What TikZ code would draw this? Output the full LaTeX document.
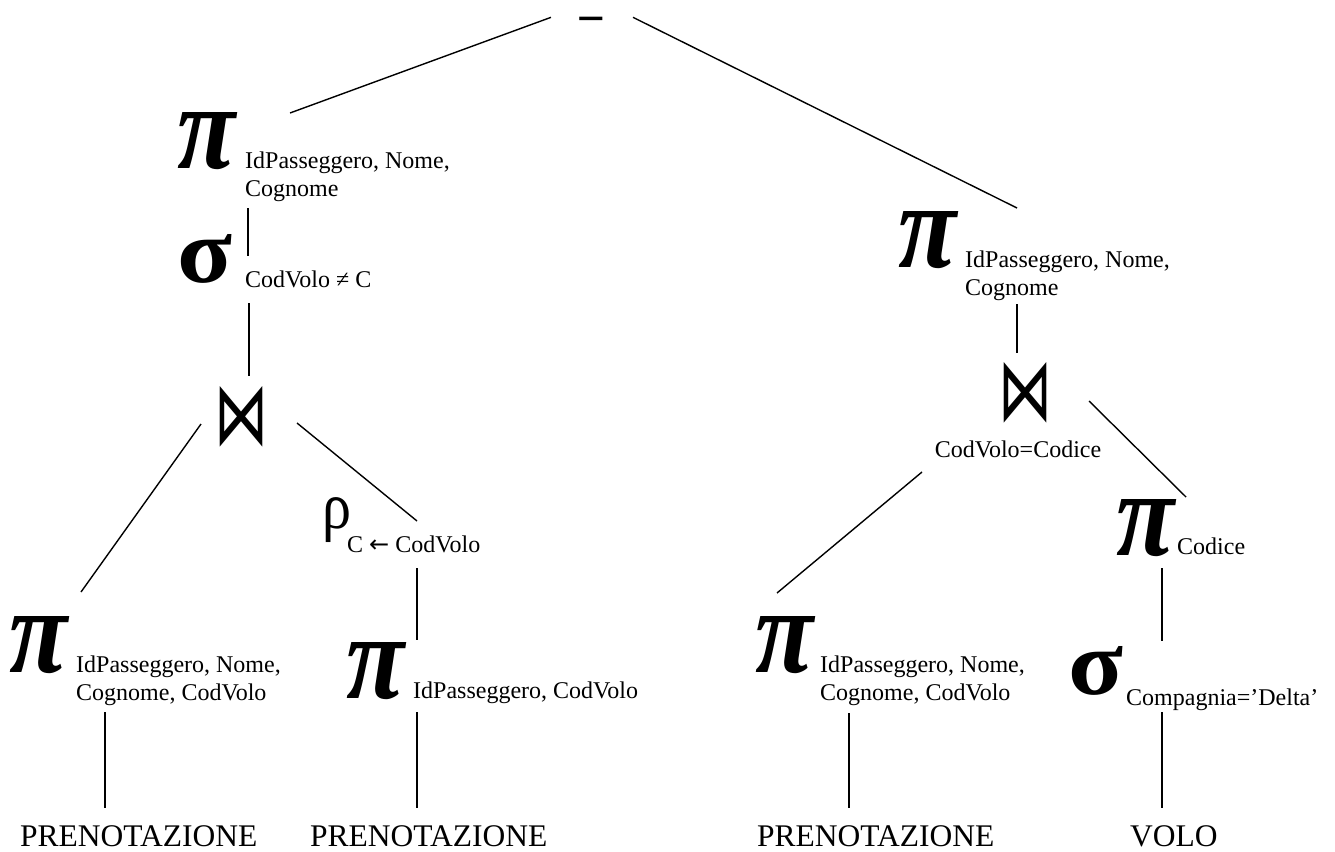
\documentclass[tikz,border=0pt]{standalone}
\usepackage{fontspec}
\setmainfont{Liberation Serif}
\newfontfamily\symfont{DejaVu Sans}
\usetikzlibrary{positioning}

\tikzset{
  edge/.style={line width=1.4pt},
  op/.style={inner sep=0pt, outer sep=0pt},
  sub/.style={inner sep=0pt, anchor=base west, align=left, font=\fontsize{24}{28}\selectfont},
  rel/.style={inner sep=0pt, anchor=base west, font=\fontsize{31.5}{36}\selectfont}
}
\newcommand{\opPi}{\resizebox{58pt}{56pt}{\bfseries\itshape π}}
\newcommand{\opSigma}{\resizebox{55pt}{48pt}{\bfseries σ}}
\newcommand{\opRho}{\resizebox*{29pt}{45pt}{ρ}}
\newcommand{\opJoin}{\resizebox{54pt}{58pt}{\symfont ⋈}}

\begin{document}
\begin{tikzpicture}[x=1pt, y=-1pt]
  \useasboundingbox (0,0) rectangle (1335,851);
  % left branch
  \node[op, anchor=base, font=\fontsize{48}{48}\selectfont\bfseries] (minus) at (591,29) {\scalebox{1.85}[0.85]{-}};
  \node[op] (pA) at (207,141) {\opPi};
  \node[sub] (pAsub) at (245,196) {IdPasseggero, Nome,\\Cognome};
  \node[op] (sA) at (205,259) {\opSigma};
  \node[sub] (sAsub) at (245,287) {CodVolo ≠ C};
  \node[op] (jA) at (241,417) {\opJoin};
  \node[op] (pB) at (39,645) {\opPi};
  \node[sub] (pBsub) at (76,700) {IdPasseggero, Nome,\\Cognome, CodVolo};
  \node[op] (rho) at (337,520) {\opRho};
  \node[sub] (rhosub) at (347,552) {C {\symfont ←} CodVolo};
  \node[op] (pC) at (376,671) {\opPi};
  \node[sub] (pCsub) at (413,698) {IdPasseggero, CodVolo};
  \node[rel] (tA) at (20,846) {PRENOTAZIONE};
  \node[rel] (tB) at (310,846) {PRENOTAZIONE};
  % right branch
  \node[op] (pD) at (927,240) {\opPi};
  \node[sub] (pDsub) at (965,295) {IdPasseggero, Nome,\\Cognome};
  \node[op] (jB) at (1025,393) {\opJoin};
  \node[sub, anchor=base] (jBsub) at (1018,457) {CodVolo=Codice};
  \node[op] (pE) at (1145,528) {\opPi};
  \node[sub] (pEsub) at (1177,554) {Codice};
  \node[op] (sB) at (1096,671) {\opSigma};
  \node[sub] (sBsub) at (1126,705) {Compagnia=’Delta’};
  \node[op] (pF) at (784,645) {\opPi};
  \node[sub] (pFsub) at (820,700) {IdPasseggero, Nome,\\Cognome, CodVolo};
  \node[rel] (tC) at (757,846) {PRENOTAZIONE};
  \node[rel] (tD) at (1130,846) {VOLO};

  % connectors
  \draw[edge] ([shift={(-40,-6)}]minus.center) -- ([shift={(83,-28)}]pA.center);
  \draw[edge] ([shift={(42,-6)}]minus.center) -- ([shift={(90,-32)}]pD.center);
  \draw[edge] ([shift={(41,67)}]pA.center) -- ([shift={(43,-3)}]sA.center);
  \draw[edge] ([shift={(44,44)}]sA.center) -- ([shift={(8,-41)}]jA.center);
  \draw[edge] ([shift={(-40,7)}]jA.center) -- ([shift={(42,-53)}]pB.center);
  \draw[edge] ([shift={(56,6)}]jA.center) -- ([shift={(80,1)}]rho.center);
  \draw[edge] ([shift={(80,48)}]rho.center) -- ([shift={(41,-31)}]pC.center);
  \draw[edge] ([shift={(41,41)}]pC.center) -- ([shift={(107,-17)}]tB.north west);
  \draw[edge] ([shift={(66,67)}]pB.center) -- ([shift={(85,-17)}]tA.north west);
  \draw[edge] ([shift={(90,64)}]pD.center) -- ([shift={(-8,-40)}]jB.center);
  \draw[edge] ([shift={(-103,79)}]jB.center) -- ([shift={(-7,-52)}]pF.center);
  \draw[edge] ([shift={(64,8)}]jB.center) -- ([shift={(41,-31)}]pE.center);
  \draw[edge] ([shift={(17,40)}]pE.center) -- ([shift={(66,-30)}]sB.center);
  \draw[edge] ([shift={(66,41)}]sB.center) -- ([shift={(32,-17)}]tD.north west);
  \draw[edge] ([shift={(65,68)}]pF.center) -- ([shift={(92,-17)}]tC.north west);
\end{tikzpicture}
\end{document}
